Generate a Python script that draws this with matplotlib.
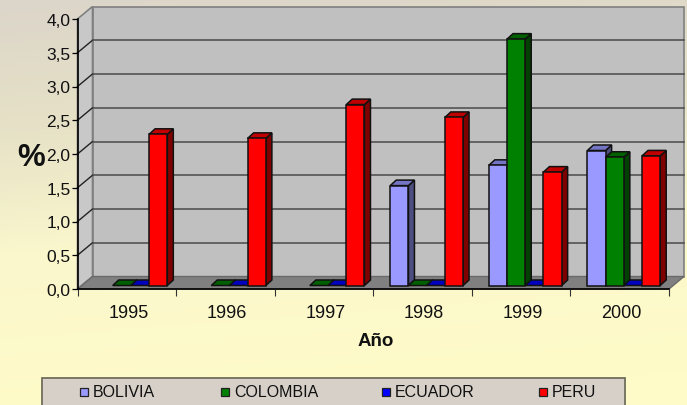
import numpy as np
import matplotlib
matplotlib.use("Agg")
import matplotlib.pyplot as plt
from matplotlib.colors import LinearSegmentedColormap
from matplotlib.patches import Polygon, Rectangle

plt.rcParams["font.family"] = ["Liberation Sans", "DejaVu Sans"]

# ── Data ──────────────────────────────────────────────────────────────────────
years = ["1995", "1996", "1997", "1998", "1999", "2000"]
series_names = ["BOLIVIA", "COLOMBIA", "ECUADOR", "PERU"]
bolivia = [np.nan, np.nan, np.nan, 1.48, 1.78, 2.00]
colombia = [0, 0, 0, 0, 3.65, 1.90]
ecuador = [0, 0, 0, 0, 0, 0]
peru = [2.24, 2.18, 2.68, 2.49, 1.68, 1.92]
y_ticks = [0, 0.5, 1, 1.5, 2, 2.5, 3, 3.5, 4]
y_labels = ["0,0", "0,5", "1,0", "1,5", "2,0", "2,5", "3,0", "3,5", "4,0"]

# ── Styles (front, top, side) ─────────────────────────────────────────────────
COLORS = [("#9999FF", "#7474C4", "#4D4D80"),
          ("#008000", "#006000", "#004000"),
          ("#0000FF", "#0000C0", "#000080"),
          ("#FF0000", "#C00000", "#800000")]

W, H = 687, 406
X0, X1, Y0, Y1 = 77.5, 669.0, 290.0, 20.0   # front plane in pixels
CAT = (X1 - X0) / len(years)
UNIT = (Y0 - Y1) / 4

# chart depth and bar depth, in data units
DX, DY = 15 / CAT, 12.5 / UNIT
BDX, BDY = 6 / CAT, 5.5 / UNIT
BASE = 3.5 / UNIT
BAR_W = 18.2 / CAT
BAR_OFF = 17.0 / CAT

fig = plt.figure(figsize=(W / 100, H / 100), dpi=100)

# ── Background gradient ───────────────────────────────────────────────────────
ax_bg = fig.add_axes([0, 0, 1, 1], zorder=0)
cmap = LinearSegmentedColormap.from_list(
    "bg", [(0, "#DCD5CA"), (0.3, "#E6E1C6"), (0.6, "#FAF7CD"), (1, "#FFFBC8")])
yy, xx = np.mgrid[0:1:128j, 0:1:128j]
ax_bg.imshow(np.clip(yy * 0.95 + xx * 0.12, 0, 1), aspect="auto", cmap=cmap,
             vmin=0, vmax=1, extent=[0, W, H, 0])
ax_bg.set_xlim(0, W)
ax_bg.set_ylim(H, 0)
ax_bg.axis("off")

# ── Legend box ────────────────────────────────────────────────────────────────
ax_bg.add_patch(Rectangle((42, 379), 583, 30, fc="#D6D0C8", ec="#6E6E5E", lw=1.3))
leg_x = [79.5, 220.5, 381.5, 538.5]
for name, lx, c in zip(series_names, leg_x, COLORS):
    ax_bg.add_patch(Rectangle((lx, 388.5), 8.5, 8.5, fc=c[0], ec="#222222", lw=0.9))
    ax_bg.text(lx + 13.5, 392.5, name, fontsize=11.5, va="center", ha="left", color="#111111")

# ── Main axes: front plane ────────────────────────────────────────────────────
ax = fig.add_axes([X0 / W, 1 - Y0 / H, (X1 - X0) / W, (Y0 - Y1) / H],
                  zorder=1, facecolor="none")
ax.set_xlim(0, len(years))
ax.set_ylim(0, 4)

n = len(years)
top = 4
ax.add_patch(Polygon([(DX, DY), (n + DX, DY), (n + DX, top + DY), (DX, top + DY)],
                     fc="#C0C0C0", ec="#808080", lw=1.2, clip_on=False, zorder=1))
ax.add_patch(Polygon([(0, 0), (DX, DY), (DX, top + DY), (0, top)],
                     fc="#C8C8C8", ec="#808080", lw=1.2, clip_on=False, zorder=1))
ax.add_patch(Polygon([(0, 0), (n, 0), (n + DX, DY), (DX, DY)],
                     fc="#808080", ec="#6A6A6A", lw=1.0, clip_on=False, zorder=2))

for t in y_ticks[1:-1]:
    ax.plot([0, DX], [t, t + DY], color="#222222", lw=1.0, clip_on=False, zorder=2)
    ax.plot([DX, n + DX], [t + DY, t + DY], color="#4A4A4A", lw=1.1,
            clip_on=False, zorder=2)

# ── Bars ──────────────────────────────────────────────────────────────────────
zo = 3
for k in range(n):
    for i, vals in enumerate([bolivia, colombia, ecuador, peru]):
        v = vals[k]
        if np.isnan(v):
            continue
        front, roof, side = COLORS[i]
        x = k + BAR_OFF + i * BAR_W
        a, b = BASE, BASE + v
        kw = dict(ec="#111111", lw=1.1, clip_on=False, zorder=zo, joinstyle="miter")
        ax.add_patch(Polygon([(x + BAR_W, a), (x + BAR_W + BDX, a + BDY),
                              (x + BAR_W + BDX, b + BDY), (x + BAR_W, b)], fc=side, **kw))
        ax.add_patch(Polygon([(x, b), (x + BAR_W, b), (x + BAR_W + BDX, b + BDY),
                              (x + BDX, b + BDY)], fc=roof, **kw))
        if v > 0:
            ax.add_patch(Rectangle((x, a), BAR_W, v, fc=front, **kw))
        zo += 1

# ── Axes, ticks, labels ───────────────────────────────────────────────────────
for sp in ["top", "right"]:
    ax.spines[sp].set_visible(False)
for sp in ["left", "bottom"]:
    ax.spines[sp].set_linewidth(1.2)
    ax.spines[sp].set_zorder(50)

ax.set_yticks(y_ticks, y_labels, fontsize=12.5, color="#111111")
ax.set_xticks(range(n + 1), [""] * (n + 1))
ax.set_xticks(np.arange(n) + 0.515, years, minor=True, fontsize=13, color="#111111")
ax.tick_params(axis="y", length=4, width=0.9, pad=1)
ax.tick_params(axis="x", which="major", length=5, width=0.8, color="#333333")
ax.tick_params(axis="x", which="minor", length=0, pad=10.5)

ax.set_xlabel("Año", fontsize=13.5, fontweight="bold", color="#111111")
ax.xaxis.set_label_coords(0.505, -0.16)
ax.text(-0.615, 1.96, "%", fontsize=22.5, fontweight="bold", va="center", ha="left",
        color="#111111", clip_on=False)

fig.savefig("out.png", dpi=100)
